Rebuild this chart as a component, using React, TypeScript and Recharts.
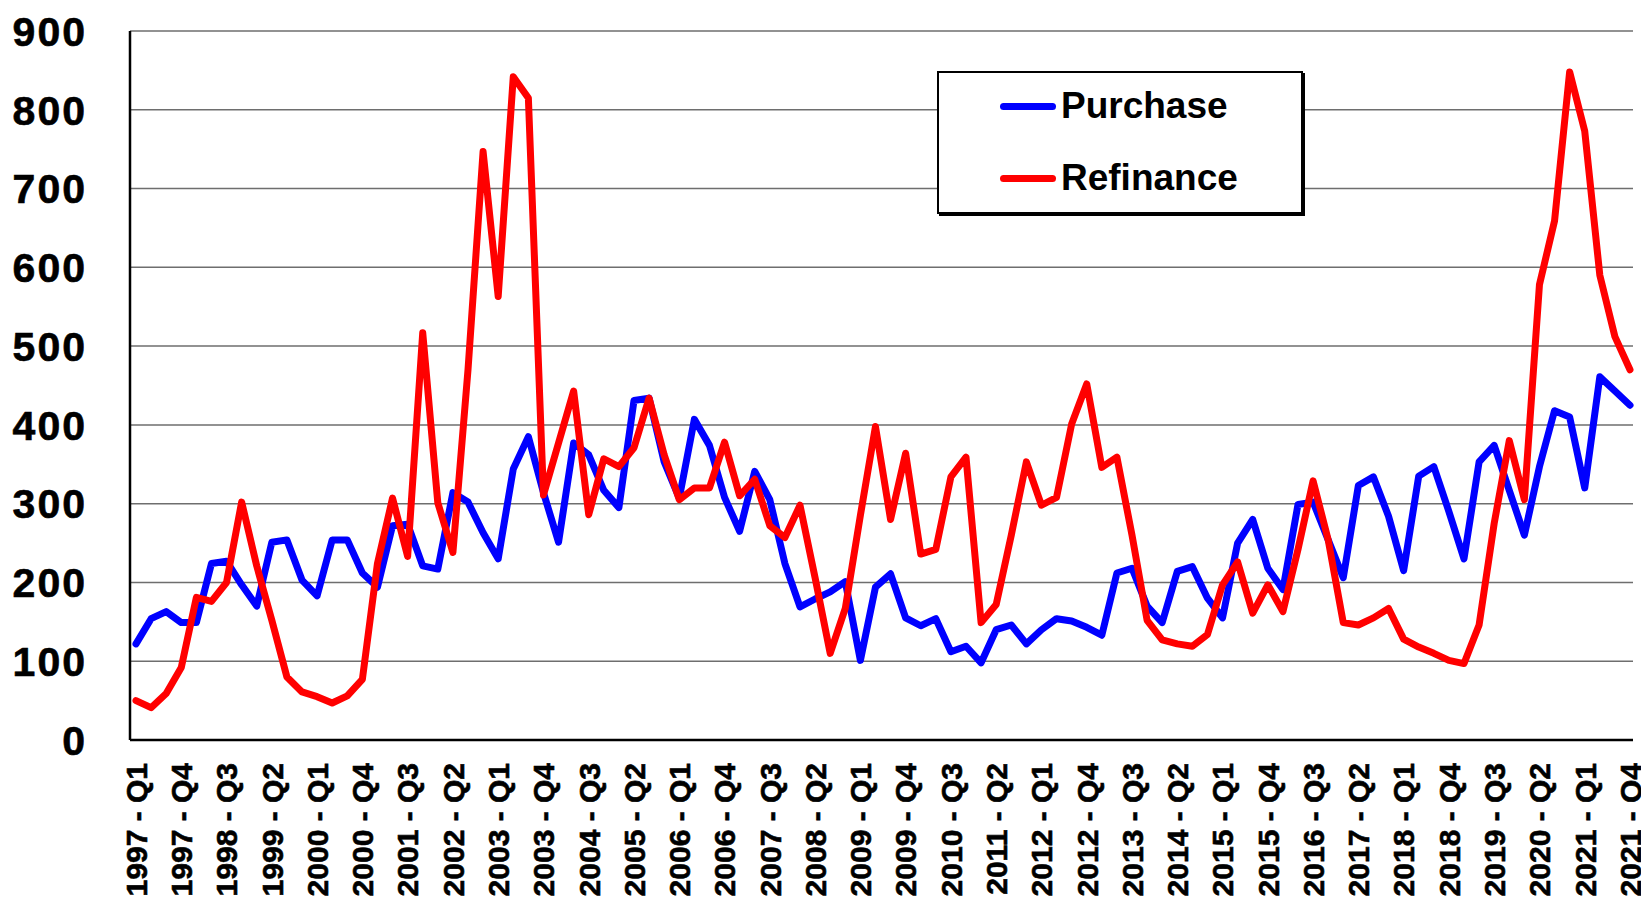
import React from 'react';
import { LineChart, Line, XAxis, YAxis, CartesianGrid, Legend } from 'recharts';

const FONT = '"Liberation Sans", Arial, sans-serif';

const years = [1997, 1998, 1999, 2000, 2001, 2002, 2003, 2004, 2005, 2006, 2007, 2008, 2009,
  2010, 2011, 2012, 2013, 2014, 2015, 2016, 2017, 2018, 2019, 2020, 2021];
const quarters = ['Q1', 'Q2', 'Q3', 'Q4'];

const purchase = [
  122, 154, 163, 149, 149, 224, 227, 197, 170, 251, 254, 203, 183, 254, 254, 212, 194, 272, 274, 221,
  217, 314, 302, 263, 230, 344, 385, 314, 251, 377, 362, 317, 295, 431, 434, 353, 307, 407, 374, 308,
  265, 341, 305, 224, 169, 179, 188, 201, 101, 194, 211, 155, 145, 154, 112, 119, 98, 140, 146, 122,
  140, 154, 151, 143, 133, 212, 218, 170, 149, 214, 220, 180, 155, 250, 280, 218, 191, 299, 302, 254,
  206, 323, 334, 284, 215, 335, 347, 290, 230, 353, 374, 317, 260, 347, 418, 410, 320, 461, 443, 425,
];

const refinance = [
  50, 41, 59, 92, 181, 176, 200, 302, 221, 152, 80, 61, 55, 47, 56, 77, 224, 307, 233, 517,
  301, 238, 470, 747, 563, 842, 815, 311, 377, 443, 286, 357, 347, 371, 434, 362, 305, 320, 320, 378,
  310, 331, 272, 257, 298, 206, 110, 167, 285, 398, 280, 364, 236, 242, 334, 359, 149, 172, 260, 353,
  298, 308, 401, 452, 346, 359, 260, 152, 127, 122, 119, 134, 197, 226, 161, 197, 163, 242, 329, 254,
  149, 146, 155, 167, 128, 118, 110, 101, 97, 146, 275, 380, 305, 578, 659, 848, 773, 590, 512, 470,
];

const yTicks = [0, 100, 200, 300, 400, 500, 600, 700, 800, 900];

const labels: string[] = [];
years.forEach((yr) => quarters.forEach((q) => labels.push(`${yr} - ${q}`)));

const data = labels.map((q, i) => ({ q, purchase: purchase[i], refinance: refinance[i] }));

const QuarterTick = (props: any) => {
  const { x, y, payload } = props;
  return (
    <g transform={`translate(${x},${y + 23})`}>
      <text transform="rotate(-90)" textAnchor="end" dy="0.36em" fontSize={30} fontWeight="bold"
        fill="#000" stroke="#000" strokeWidth={0.6} fontFamily={FONT}>
        {payload.value}
      </text>
    </g>
  );
};

const ValueTick = (props: any) => {
  const { x, y, payload } = props;
  return (
    <text x={x} y={y} dy="0.36em" textAnchor="end" fontSize={41} fontWeight="bold"
      letterSpacing={2} fill="#000" stroke="#000" strokeWidth={0.6} fontFamily={FONT}>
      {payload.value}
    </text>
  );
};

const rowCenters = [35, 107];

const LegendBox = (props: any) => {
  const payload = props.payload || [];
  return (
    <div style={{ position: 'relative', width: 366, height: 143, boxSizing: 'border-box',
      border: '2px solid #000', boxShadow: '2px 2px 0 #000', background: '#fff', fontFamily: FONT }}>
      {payload.map((entry: any, i: number) => (
        <div key={`leg-${i}`} style={{ position: 'absolute', left: 61, top: rowCenters[i] - 22, height: 40,
          display: 'flex', alignItems: 'center' }}>
          <div style={{ width: 56, height: 7, borderRadius: 4, background: entry.color }} />
          <span style={{ marginLeft: 5, fontSize: 37, fontWeight: 'bold', color: '#000', whiteSpace: 'nowrap' }}>
            {entry.value}
          </span>
        </div>
      ))}
    </div>
  );
};

export default function App() {
  return (
    <div style={{ position: 'absolute', left: 0, top: 0, width: 1641, height: 901, background: '#fff' }}>
      <LineChart width={1641} height={901} data={data} margin={{ top: 31, right: 8, bottom: 0, left: 0 }}>
        <CartesianGrid horizontal vertical={false} stroke="#6e6e6e" strokeWidth={1.5} />
        <XAxis dataKey="q" interval={2} height={161} tickSize={0} tickMargin={0} tick={<QuarterTick />}
          padding={{ left: 6, right: 3 }} axisLine={{ stroke: '#000', strokeWidth: 2.5 }} />
        <XAxis xAxisId="top" orientation="top" dataKey="q" height={0} tick={false} tickLine={false}
          padding={{ left: 6, right: 3 }} axisLine={{ stroke: '#000', strokeWidth: 2.5 }} />
        <YAxis domain={[0, 900]} ticks={yTicks} width={130} tickSize={0} tickMargin={43}
          tick={<ValueTick />} axisLine={{ stroke: '#000', strokeWidth: 2.5 }} />
        <YAxis yAxisId="right" orientation="right" domain={[0, 900]} width={0} tick={false} tickLine={false}
          axisLine={{ stroke: '#000', strokeWidth: 2.5 }} />
        <Legend layout="horizontal" verticalAlign="middle" align="center" width={366} height={143}
          wrapperStyle={{ left: 937, top: 71, width: 366, height: 143 }} content={<LegendBox />} />
        <Line type="linear" dataKey="purchase" name="Purchase" stroke="#0000ff" strokeWidth={7}
          strokeLinejoin="round" strokeLinecap="round" dot={false} activeDot={false} isAnimationActive={false} />
        <Line type="linear" dataKey="refinance" name="Refinance" stroke="#ff0000" strokeWidth={7}
          strokeLinejoin="round" strokeLinecap="round" dot={false} activeDot={false} isAnimationActive={false} />
      </LineChart>
    </div>
  );
}
